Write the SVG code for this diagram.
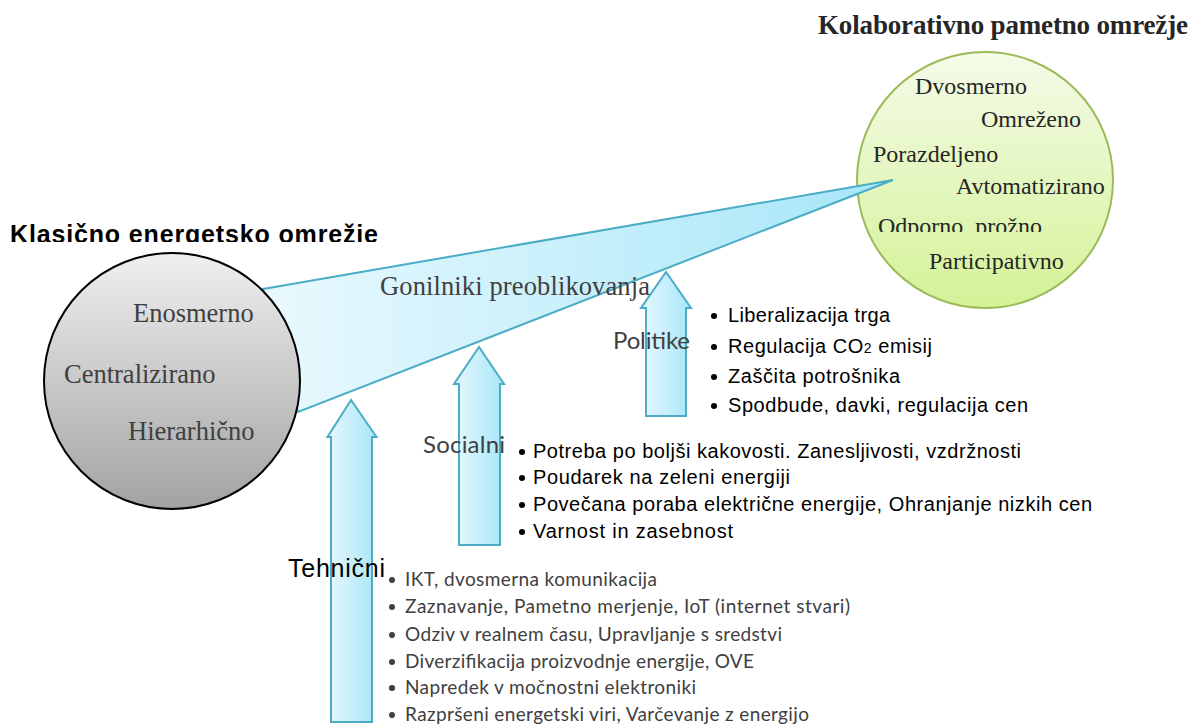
<svg xmlns="http://www.w3.org/2000/svg" width="1192" height="725" viewBox="0 0 1192 725">
  <defs>
    <linearGradient id="gradGrey" x1="0" y1="0" x2="0" y2="1">
      <stop offset="0" stop-color="#f0f0f0"/>
      <stop offset="1" stop-color="#a2a2a2"/>
    </linearGradient>
    <linearGradient id="gradGreen" x1="0" y1="0" x2="0" y2="1">
      <stop offset="0" stop-color="#f5fbe9"/>
      <stop offset="1" stop-color="#d4f297"/>
    </linearGradient>
    <linearGradient id="gradWedge" gradientUnits="userSpaceOnUse" x1="263" y1="0" x2="893" y2="0">
      <stop offset="0" stop-color="#e9f9fe"/>
      <stop offset="1" stop-color="#a6e6f8"/>
    </linearGradient>
    <linearGradient id="gradArrow" x1="0" y1="0" x2="1" y2="0">
      <stop offset="0" stop-color="#e6f8fe"/>
      <stop offset="1" stop-color="#a8e6f8"/>
    </linearGradient>
    <clipPath id="clipTitle"><rect x="0" y="200" width="420" height="42"/></clipPath>
    <clipPath id="clipResilient"><rect x="860" y="200" width="260" height="32"/></clipPath>
  </defs>
  <style>
    .serif { font-family: "Liberation Serif", "Times New Roman", serif; }
    .sans { font-family: "Liberation Sans", Arial, sans-serif; }
    .humanist { font-family: Lato, "Open Sans", sans-serif; }
    .grey { fill: #404040; }
    .dark { fill: #262626; }
    .arrow { fill: url(#gradArrow); stroke: #4bacc6; stroke-width: 2; }
    .circText { font-size: 26.5px; }
    .smartText { font-size: 24px; }
    .item { font-size: 20px; fill: #000; }
    .tech { font-size: 19px; fill: #404040; }
    .dot { fill: #000; }
    .dotGrey { fill: #404040; }
  </style>

  <!-- smart grid circle (drawn first, the wedge tip sits on top) -->
  <g id="smart-grid">
    <circle cx="985" cy="180" r="128" fill="url(#gradGreen)" stroke="#9bbb59" stroke-width="2"/>
    <text class="serif dark" x="818" y="34" font-size="27" font-weight="bold" textLength="370">Kolaborativno pametno omrežje</text>
    <text class="serif dark smartText" x="915" y="94">Dvosmerno</text>
    <text class="serif dark smartText" x="981" y="127">Omreženo</text>
    <text class="serif dark smartText" x="873" y="162">Porazdeljeno</text>
    <text class="serif dark smartText" x="956" y="194">Avtomatizirano</text>
    <text class="serif dark smartText" x="878" y="234" clip-path="url(#clipResilient)">Odporno, prožno</text>
    <text class="serif dark smartText" x="929" y="269">Participativno</text>
  </g>

  <!-- connectors: transformation wedge and driver arrows -->
  <g id="connectors">
    <polygon points="263,289 893,180 298,412" fill="url(#gradWedge)" stroke="#4bacc6" stroke-width="2" stroke-linejoin="miter"/>
    <path class="arrow" d="M331,722 L331,437 L327.5,437 L351,400 L376.5,437 L372,437 L372,722 Z"/>
    <path class="arrow" d="M459,545 L459,384 L454,384 L479,347 L504,384 L500,384 L500,545 Z"/>
    <path class="arrow" d="M646,416 L646,308 L641,308 L666,272 L691,308 L686,308 L686,416 Z"/>
  </g>

  <g id="wedge-label">
    <text class="serif grey" x="380" y="295" font-size="26.5" textLength="270">Gonilniki preoblikovanja</text>
  </g>

  <!-- classic grid circle -->
  <g id="classic-grid">
    <circle cx="172" cy="381" r="128" fill="url(#gradGrey)" stroke="#000" stroke-width="2"/>
    <text class="sans" x="10" y="243" font-size="25" font-weight="bold" fill="#000" textLength="368" clip-path="url(#clipTitle)">Klasično energetsko omrežje</text>
    <text class="serif grey circText" x="133" y="322">Enosmerno</text>
    <text class="serif grey circText" x="64" y="383">Centralizirano</text>
    <text class="serif grey circText" x="128" y="440">Hierarhično</text>
  </g>

  <!-- policy drivers -->
  <g id="policy">
    <text class="humanist grey" x="613" y="349" font-size="24" textLength="77">Politike</text>
    <circle class="dot" cx="714" cy="316" r="3"/>
    <text class="sans item" x="728" y="322" textLength="162">Liberalizacija trga</text>
    <circle class="dot" cx="714" cy="347" r="3"/>
    <text class="sans item" x="728" y="353" textLength="204">Regulacija CO<tspan font-size="14">2</tspan> emisij</text>
    <circle class="dot" cx="714" cy="377" r="3"/>
    <text class="sans item" x="728" y="383" textLength="172">Zaščita potrošnika</text>
    <circle class="dot" cx="714" cy="406" r="3"/>
    <text class="sans item" x="728" y="412" textLength="300">Spodbude, davki, regulacija cen</text>
  </g>

  <!-- social drivers -->
  <g id="social">
    <text class="humanist grey" x="423" y="453" font-size="24" textLength="82">Socialni</text>
    <circle class="dot" cx="522" cy="452" r="3"/>
    <text class="sans item" x="533" y="458" textLength="488">Potreba po boljši kakovosti. Zanesljivosti, vzdržnosti</text>
    <circle class="dot" cx="522" cy="478" r="3"/>
    <text class="sans item" x="533" y="484" textLength="257">Poudarek na zeleni energiji</text>
    <circle class="dot" cx="522" cy="505" r="3"/>
    <text class="sans item" x="533" y="511" textLength="559">Povečana poraba električne energije, Ohranjanje nizkih cen</text>
    <circle class="dot" cx="522" cy="532" r="3"/>
    <text class="sans item" x="533" y="538" textLength="200">Varnost in zasebnost</text>
  </g>

  <!-- technical drivers -->
  <g id="technical">
    <text class="sans" x="288" y="577" font-size="25" fill="#000" textLength="97">Tehnični</text>
    <circle class="dotGrey" cx="392" cy="580" r="3"/>
    <text class="humanist tech" x="405" y="586" textLength="252">IKT, dvosmerna komunikacija</text>
    <circle class="dotGrey" cx="392" cy="607" r="3"/>
    <text class="humanist tech" x="405" y="613" textLength="445">Zaznavanje, Pametno merjenje, IoT (internet stvari)</text>
    <circle class="dotGrey" cx="392" cy="635" r="3"/>
    <text class="humanist tech" x="405" y="641" textLength="377">Odziv v realnem času, Upravljanje s sredstvi</text>
    <circle class="dotGrey" cx="392" cy="662" r="3"/>
    <text class="humanist tech" x="405" y="668" textLength="349">Diverzifikacija proizvodnje energije, OVE</text>
    <circle class="dotGrey" cx="392" cy="688" r="3"/>
    <text class="humanist tech" x="405" y="694" textLength="291">Napredek v močnostni elektroniki</text>
    <circle class="dotGrey" cx="392" cy="715" r="3"/>
    <text class="humanist tech" x="405" y="721" textLength="404">Razpršeni energetski viri, Varčevanje z energijo</text>
  </g>
</svg>
